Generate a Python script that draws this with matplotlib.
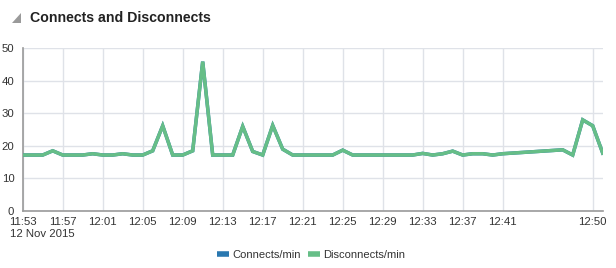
import matplotlib
matplotlib.use("Agg")
import matplotlib.pyplot as plt
from matplotlib.patches import Polygon
from matplotlib.lines import Line2D

plt.rcParams['font.family'] = ['Liberation Sans', 'DejaVu Sans']

# minutes after 11:53 (no samples between 12:41 and 12:47)
minutes = list(range(0, 49)) + [54, 55, 56, 57, 58]

disconnects = [17.2, 17.2, 17.2, 18.5, 17.2, 17.2, 17.2, 17.6, 17.2, 17.2,
               17.6, 17.2, 17.2, 18.5, 26.2, 17.2, 17.2, 18.5, 45.9, 17.2,
               17.2, 17.2, 26.0, 18.3, 17.2, 26.3, 19.0, 17.2, 17.2, 17.2,
               17.2, 17.2, 18.7, 17.2, 17.2, 17.2, 17.2, 17.2, 17.2, 17.2,
               17.7, 17.2, 17.6, 18.4, 17.2, 17.6, 17.6, 17.2, 17.6,
               18.8, 17.2, 28.0, 26.2, 17.8]
connects = [17.2, 17.2, 17.2, 18.5, 17.2, 17.2, 17.2, 17.6, 17.2, 17.2,
            17.6, 17.2, 17.2, 18.5, 26.2, 17.2, 17.2, 18.5, 45.9, 17.2,
            17.2, 17.2, 26.0, 18.3, 17.2, 26.3, 19.0, 17.2, 17.2, 17.2,
            17.2, 17.2, 18.7, 17.2, 17.2, 17.2, 17.2, 17.2, 17.2, 17.2,
            17.7, 17.2, 17.6, 18.4, 17.2, 17.6, 17.6, 17.2, 17.6,
            18.8, 17.2, 28.0, 26.2, 17.8]

tick_minutes = [0, 4, 8, 12, 16, 20, 24, 28, 32, 36, 40, 44, 48, 57]
tick_labels = ["11:53", "11:57", "12:01", "12:05", "12:09", "12:13",
               "12:17", "12:21", "12:25", "12:29", "12:33", "12:37", "12:41", "12:50"]
date_label = "12 Nov 2015"
y_ticks = [0, 10, 20, 30, 40, 50]

blue = '#2a78b0'
green = '#66be87'
text_col = '#333333'
grid_col = '#dfe2e8'

fig = plt.figure(figsize=(6.16, 2.68), dpi=100)
ax = fig.add_axes([22.7 / 616, 1 - 211 / 268, 580 / 616, 162.7 / 268])

ax.plot(minutes, connects, color=blue, lw=2.5, solid_joinstyle='miter', zorder=3)
ax.plot(minutes, disconnects, color=green, lw=2.5, solid_joinstyle='miter', zorder=4)

ax.set_xlim(0, 58)
ax.set_ylim(0, 50)
ax.set_xticks(tick_minutes)
ax.set_xticklabels(tick_labels)
ax.set_yticks(y_ticks)
ax.tick_params(axis='both', length=0, labelsize=8.2, colors=text_col)
ax.tick_params(axis='x', pad=4)
ax.tick_params(axis='y', pad=6)
ax.grid(True, color=grid_col, lw=1)
ax.set_axisbelow(True)
for s in ['top', 'right']:
    ax.spines[s].set_visible(False)
for s in ['left', 'bottom']:
    ax.spines[s].set_color('#9a9a9a')
    ax.spines[s].set_linewidth(1.2)

fig.text(10 / 616, 1 - 234 / 268, date_label, fontsize=8.2, color=text_col,
         va='center', ha='left')

# header
fig.text(30 / 616, 1 - 18 / 268, "Connects and Disconnects", fontsize=10.2,
         fontweight='bold', color='#222222', va='center', ha='left')
tri = Polygon([(12 / 616, 1 - 23 / 268), (21 / 616, 1 - 23 / 268), (21 / 616, 1 - 13 / 268)],
              closed=True, transform=fig.transFigure, facecolor='#9a9a9a', edgecolor='none')
fig.patches.append(tri)

handles = [Line2D([], [], color=blue, lw=4, solid_capstyle='butt'),
           Line2D([], [], color=green, lw=4, solid_capstyle='butt')]
fig.legend(handles, ["Connects/min", "Disconnects/min"], loc='center',
           bbox_to_anchor=(311 / 616, 1 - 255 / 268), ncol=2, frameon=False,
           fontsize=8.0, handlelength=1.1, handletextpad=0.3, columnspacing=0.6,
           labelcolor=text_col)

fig.savefig("out.png", dpi=100)
